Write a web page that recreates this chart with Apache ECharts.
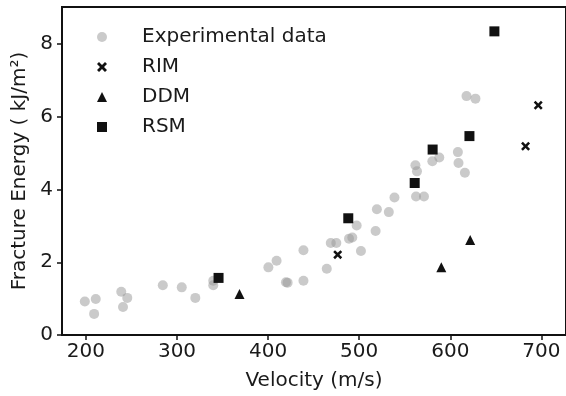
<!DOCTYPE html>
<html>
<head>
<meta charset="utf-8">
<script src="https://cdn.jsdelivr.net/npm/echarts@6/dist/echarts.min.js"></script>
<style>
html,body{margin:0;padding:0;background:#fff;}
#c{width:566px;height:396px;}
</style>
</head>
<body>
<div id="c"></div>
<script>
// Data: [velocity (m/s), fracture energy (kJ/m^2)]
const experimental = [
  [198.8,0.92],[210.8,0.99],[209,0.58],[238.8,1.19],[245.4,1.02],[240.7,0.77],
  [284.4,1.37],[305.2,1.31],[320.1,1.02],[339.8,1.49],[339.8,1.37],
  [400.3,1.86],[409.3,2.04],[419.6,1.45],[421.4,1.44],[438.8,2.33],[438.8,1.49],
  [464.4,1.82],[468.8,2.53],[474.9,2.53],[488.8,2.65],[492.4,2.68],[497.2,3.01],
  [501.9,2.31],[518,2.86],[519.4,3.46],[532.5,3.38],[538.7,3.78],
  [562.4,3.81],[571.1,3.81],[561.7,4.67],[563.4,4.50],[580.3,4.78],[587.9,4.88],
  [608.3,5.03],[609,4.73],[616,4.46],[617.8,6.57],[627.6,6.50]
];
const rim = [[476.4,2.21],[682.6,5.19],[696.5,6.32]];
const ddm = [[368.6,1.13],[590.1,1.86],[621.8,2.61]];
const rsm = [[345.6,1.57],[488,3.21],[560.9,4.18],[580.6,5.10],[621,5.47],[648.4,8.35]];
const xTicks = [200,300,400,500,600,700];
const yTicks = [0,2,4,6,8];
const seriesNames = ['Experimental data','RIM','DDM','RSM'];

const X_PATH = 'path://M0,2L2,0L5,3L8,0L10,2L7,5L10,8L8,10L5,7L2,10L0,8L3,5Z';
const FONT = 'DejaVu Sans';
const TXT = '#1a1a1a';

const chart = echarts.init(document.getElementById('c'), null, {renderer:'canvas'});
chart.setOption({
  animation:false,
  backgroundColor:'#fff',
  grid:{left:62, top:7, width:506, height:328, show:true, borderColor:'#111', borderWidth:2, backgroundColor:'transparent'},
  legend:{
    orient:'vertical', left:92, top:22, itemWidth:10, itemHeight:10, itemGap:10,
    textStyle:{fontFamily:FONT, fontSize:20, color:TXT, lineHeight:20, padding:[0,0,0,30]},
    data:[
      {name:seriesNames[0], icon:'circle'},
      {name:seriesNames[1], icon:X_PATH},
      {name:seriesNames[2], icon:'triangle'},
      {name:seriesNames[3], icon:'rect'}
    ]
  },
  xAxis:{
    type:'value', min:173.75, max:727,
    name:'Velocity (m/s)', nameLocation:'middle', nameGap:36,
    nameTextStyle:{fontFamily:FONT, fontSize:20, color:TXT},
    axisLine:{show:true, lineStyle:{color:'#111', width:2}},
    axisTick:{show:true, length:5, lineStyle:{color:'#111', width:1.5}, customValues:xTicks},
    axisLabel:{fontFamily:FONT, fontSize:20, color:TXT, margin:7, customValues:xTicks},
    splitLine:{show:false}
  },
  yAxis:{
    type:'value', min:0, max:9.02,
    name:'Fracture Energy ( kJ/m²)', nameLocation:'middle', nameGap:30, nameRotate:90,
    nameTextStyle:{fontFamily:FONT, fontSize:20, color:TXT},
    axisLine:{show:true, lineStyle:{color:'#111', width:2}},
    axisTick:{show:true, length:5, lineStyle:{color:'#111', width:1.5}, customValues:yTicks},
    axisLabel:{fontFamily:FONT, fontSize:20, color:TXT, margin:9, customValues:yTicks},
    splitLine:{show:false}
  },
  series:[
    {name:seriesNames[0], type:'scatter', data:experimental, symbol:'circle', symbolSize:10,
     itemStyle:{color:'rgba(150,150,150,0.5)', opacity:1}},
    {name:seriesNames[1], type:'scatter', data:rim, symbol:X_PATH, symbolSize:9,
     itemStyle:{color:'#111', opacity:1}},
    {name:seriesNames[2], type:'scatter', data:ddm, symbol:'triangle', symbolSize:10,
     itemStyle:{color:'#111', opacity:1}},
    {name:seriesNames[3], type:'scatter', data:rsm, symbol:'rect', symbolSize:10,
     itemStyle:{color:'#111', opacity:1}}
  ]
});
</script>
</body>
</html>
